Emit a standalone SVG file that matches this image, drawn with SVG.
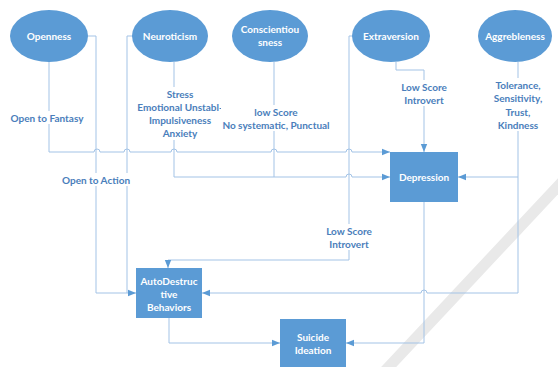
<svg xmlns="http://www.w3.org/2000/svg" width="558" height="367" viewBox="0 0 558 367">
<defs>
<style>
.node{fill:#5B9BD5;}
.nt{font-family:Lato,"Liberation Sans",sans-serif;font-weight:bold;font-size:10px;fill:#ffffff;text-anchor:middle;}
.lb{font-family:Lato,"Liberation Sans",sans-serif;font-weight:bold;font-size:10px;fill:#4A7EBB;text-anchor:middle;}
.cn{fill:none;stroke:#A3C3E6;stroke-width:1;}
.ar{fill:none;stroke:#A3C3E6;stroke-width:1;marker-end:url(#ah);}
.bg{fill:#ffffff;}
</style>
<marker id="ah" viewBox="0 0 8 8" refX="8" refY="4" markerWidth="8" markerHeight="8" markerUnits="userSpaceOnUse" orient="auto">
<path d="M0,0.8 L8,4 L0,7.2 Z" fill="#5B9BD5"/>
</marker>
</defs>
<rect width="558" height="367" fill="#ffffff"/>
<line x1="562" y1="182" x2="384" y2="372" stroke="#E9E9E9" stroke-width="11"/>
<g id="connectors">
<path class="ar" d="M49,62 V152 H94 a3,3 0 0 1 6,0 H124 a3,3 0 0 1 6,0 H171 a3,3 0 0 1 6,0 H271 a3,3 0 0 1 6,0 H346 a3,3 0 0 1 6,0 H390"/>
<path class="ar" d="M88,36 H96 V293 H136"/>
<path class="cn" d="M133,36 H127 V293"/>
<path class="ar" d="M174,62 V177 H346 a3,3 0 0 1 6,0 H390"/>
<path class="cn" d="M274,62 V177"/>
<path class="ar" d="M352,36 H349 V260 H168 V268"/>
<path class="ar" d="M396,62 V70 H424 V152"/>
<path class="ar" d="M518,62 V293 H427 a3,3 0 0 0 -6,0 H202"/>
<path class="ar" d="M518,177 H458"/>
<path class="ar" d="M424,202 V343 H346"/>
<path class="ar" d="M169,318 V343 H280"/>
</g>
<g id="labels">
<rect class="bg" x="8" y="111" width="78" height="13"/>
<text class="lb" x="47" y="122">Open to Fantasy</text>
<rect class="bg" x="60" y="173" width="73" height="13"/>
<text class="lb" x="96" y="184">Open to Action</text>
<rect class="bg" x="135" y="87" width="90" height="53"/>
<text class="lb" x="180" y="98">Stress</text>
<text class="lb" x="180" y="111">Emotional Unstabl-</text>
<text class="lb" x="180" y="124">Impulsiveness</text>
<text class="lb" x="180" y="137">Anxiety</text>
<rect class="bg" x="221" y="105" width="112" height="26"/>
<text class="lb" x="276" y="116">low Score</text>
<text class="lb" x="276" y="129">No systematic, Punctual</text>
<rect class="bg" x="322" y="224" width="54" height="26"/>
<text class="lb" x="349" y="235">Low Score</text>
<text class="lb" x="349" y="248">Introvert</text>
<rect class="bg" x="398" y="80" width="54" height="26"/>
<text class="lb" x="424" y="91">Low Score</text>
<text class="lb" x="424" y="104">Introvert</text>
<rect class="bg" x="488" y="78" width="60" height="53"/>
<text class="lb" x="518" y="89">Tolerance,</text>
<text class="lb" x="518" y="102">Sensitivity,</text>
<text class="lb" x="518" y="116">Trust,</text>
<text class="lb" x="518" y="129">Kindness</text>
</g>
<g id="openness"><ellipse class="node" cx="49" cy="36" rx="39" ry="26"/><text class="nt" x="49" y="40">Openness</text></g>
<g id="neuroticism"><ellipse class="node" cx="170" cy="36" rx="38" ry="26"/><text class="nt" x="170" y="40">Neuroticism</text></g>
<g id="conscientiousness"><ellipse class="node" cx="270" cy="36" rx="38" ry="26"/><text class="nt" x="270" y="33">Conscientiou</text><text class="nt" x="270" y="46">sness</text></g>
<g id="extraversion"><ellipse class="node" cx="391" cy="36" rx="39" ry="26"/><text class="nt" x="391" y="40">Extraversion</text></g>
<g id="aggrebleness"><ellipse class="node" cx="515" cy="36" rx="37" ry="26"/><text class="nt" x="515" y="40">Aggrebleness</text></g>
<g id="depression"><rect class="node" x="390" y="152" width="68" height="50"/><text class="nt" x="424" y="181">Depression</text></g>
<g id="autodestructive"><rect class="node" x="136" y="268" width="66" height="50"/><text class="nt" x="169" y="285">AutoDestruc</text><text class="nt" x="169" y="298">tive</text><text class="nt" x="169" y="311">Behaviors</text></g>
<g id="suicide"><rect class="node" x="280" y="319" width="66" height="48"/><text class="nt" x="313" y="341">Suicide</text><text class="nt" x="313" y="354">Ideation</text></g>
</svg>
